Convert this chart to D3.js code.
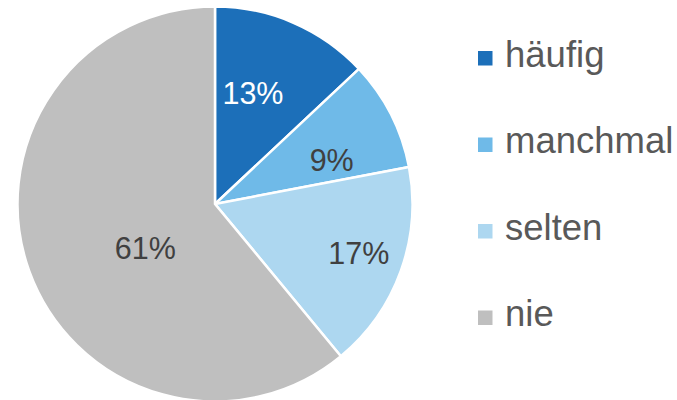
<!DOCTYPE html>
<html><head><meta charset="utf-8">
<script src="https://cdn.jsdelivr.net/npm/d3@7/dist/d3.min.js"></script>
<style>body{margin:0;background:#fff}svg{display:block}</style>
</head><body>
<svg id="c" width="677" height="400"></svg>
<script>
const categories = ["häufig", "manchmal", "selten", "nie"];
const values = [13, 9, 17, 61];
const labels = ["13%", "9%", "17%", "61%"];
const colors = ["#1C6FB9", "#6FBAE8", "#ADD7F0", "#BFBFBF"];
const labelColors = ["#FFFFFF", "#404040", "#404040", "#404040"];

const svg = d3.select("#c");
const cx = 215, cy = 204, R = 197.5;
const g = svg.append("g").attr("transform", `translate(${cx},${cy})`);
const pie = d3.pie().sort(null).value(d => d)(values);
const arc = d3.arc().innerRadius(0).outerRadius(R);
g.selectAll("path").data(pie).enter().append("path")
  .attr("d", arc).attr("fill", (d, i) => colors[i])
  .attr("stroke", "#fff").attr("stroke-width", 2.5).attr("stroke-linejoin", "round");

// label placement (Excel best-fit-like)
const lr = [0.59, 0.63, 0.77, 0.42];
const la = [-4.4, 6.7, -0.8, -13];
g.selectAll("text").data(pie).enter().append("text")
  .attr("transform", (d, i) => {
    const a = (d.startAngle + d.endAngle) / 2 + la[i] * Math.PI / 180;
    const r = R * lr[i];
    return `translate(${r * Math.sin(a)},${-r * Math.cos(a) + 10.5})`;
  })
  .attr("text-anchor", "middle")
  .attr("font-family", "Liberation Sans, Arial, sans-serif")
  .attr("font-size", 30.5)
  .attr("fill", (d, i) => labelColors[i])
  .text((d, i) => labels[i]);

const leg = svg.append("g");
const rows = leg.selectAll("g").data(categories).enter().append("g")
  .attr("transform", (d, i) => `translate(478,${66.5 + i * 86.5})`);
rows.append("rect").attr("x", 0).attr("y", -15.5).attr("width", 14.5).attr("height", 14.5)
  .attr("fill", (d, i) => colors[i]);
rows.append("text").attr("x", 27).attr("y", 0)
  .attr("font-family", "Liberation Sans, Arial, sans-serif")
  .attr("font-size", 36.5).attr("fill", "#595959").text(d => d);
</script>
</body></html>
